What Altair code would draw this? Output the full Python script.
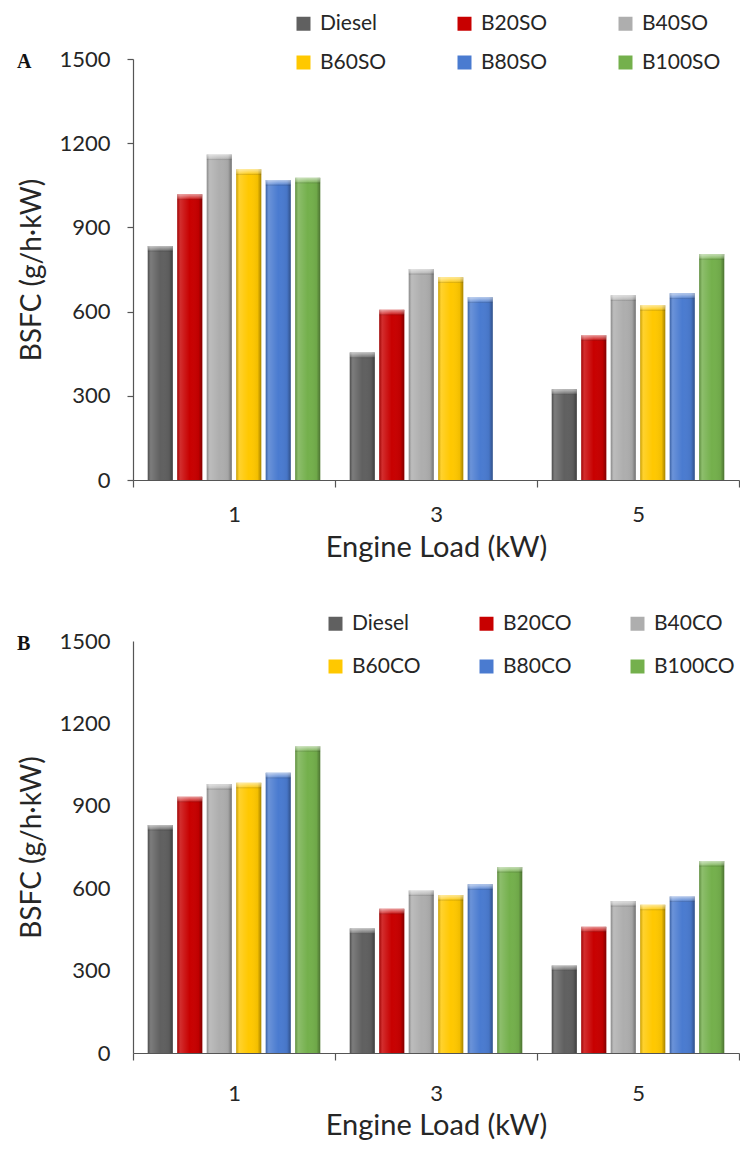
import altair as alt
import pandas as pd

loads = ["1", "3", "5"]
fuels_a = ["Diesel", "B20SO", "B40SO", "B60SO", "B80SO", "B100SO"]
fuels_b = ["Diesel", "B20CO", "B40CO", "B60CO", "B80CO", "B100CO"]
colors = ["#606060", "#C80000", "#AEAEAE", "#FFC800", "#4A7BD0", "#74B04C"]
y_ticks = [0, 300, 600, 900, 1200, 1500]

# Panel A (soybean oil blends) BSFC at 1, 3, 5 kW
a_diesel = [834, 454, 323]
a_b20 = [1018, 607, 516]
a_b40 = [1160, 752, 658]
a_b60 = [1107, 722, 623]
a_b80 = [1069, 651, 665]
a_b100 = [1077, None, 805]

# Panel B (canola oil blends) BSFC at 1, 3, 5 kW
b_diesel = [830, 453, 319]
b_b20 = [933, 525, 460]
b_b40 = [979, 592, 553]
b_b60 = [984, 575, 540]
b_b80 = [1020, 614, 570]
b_b100 = [1117, 677, 699]

FONT = "Lato"
TXT = "#262626"
AX = "#555555"


def build_df(fuels, series):
    rows = []
    for f, arr in zip(fuels, series):
        for l, v in zip(loads, arr):
            if v is not None:
                rows.append({"load": l, "fuel": f, "bsfc": v})
    return pd.DataFrame(rows)


def make_panel(fuels, series, letter, leg_x, leg_y, col_pad, row_pad, height,
               show_yticks, y_lab_pad, x_lab_pad, x_title_pad):
    df = build_df(fuels, series)
    x = alt.X(
        "load:N", sort=loads,
        scale=alt.Scale(paddingInner=0, paddingOuter=0),
        axis=alt.Axis(title="Engine Load (kW)", labelAngle=0, tickBand="extent",
                      tickSize=7, labelPadding=x_lab_pad, titlePadding=x_title_pad,
                      labelFontSize=22, titleFontSize=29),
    )
    xo = alt.XOffset("fuel:N", sort=fuels,
                     scale=alt.Scale(domain=fuels, paddingInner=0.15, paddingOuter=0.5))
    y = alt.Y(
        "bsfc:Q", scale=alt.Scale(domain=[0, 1500]),
        axis=alt.Axis(title="BSFC (g/h·kW)", values=y_ticks, grid=False, format="d",
                      ticks=show_yticks, tickSize=6, labelPadding=y_lab_pad,
                      titlePadding=12, labelFontSize=22, titleFontSize=28),
    )
    base = alt.Chart(df).encode(x=x, xOffset=xo, y=y)
    bars = base.mark_bar().encode(
        color=alt.Color(
            "fuel:N", sort=fuels,
            scale=alt.Scale(domain=fuels, range=colors),
            legend=alt.Legend(
                title=None, orient="none", legendX=leg_x, legendY=leg_y,
                direction="horizontal", columns=3, columnPadding=col_pad,
                rowPadding=row_pad, symbolType="square", symbolSize=196,
                symbolStrokeWidth=0, labelFontSize=21, labelOffset=6,
                labelFont=FONT, labelColor=TXT, padding=0,
            ),
        )
    )
    shade = base.mark_bar(
        color={
            "gradient": "linear", "x1": 0, "x2": 1, "y1": 0, "y2": 0,
            "stops": [
                {"offset": 0, "color": "rgba(0,0,0,0.22)"},
                {"offset": 0.12, "color": "rgba(255,255,255,0.18)"},
                {"offset": 0.5, "color": "rgba(255,255,255,0.0)"},
                {"offset": 0.85, "color": "rgba(0,0,0,0.05)"},
                {"offset": 1, "color": "rgba(0,0,0,0.35)"},
            ],
        }
    )
    cap = base.transform_calculate(cap_lo="datum.bsfc - 20").mark_bar(
        color={
            "gradient": "linear", "x1": 0, "x2": 0, "y1": 0, "y2": 1,
            "stops": [
                {"offset": 0, "color": "rgba(255,255,255,0.6)"},
                {"offset": 0.7, "color": "rgba(255,255,255,0.2)"},
                {"offset": 1, "color": "rgba(0,0,0,0.15)"},
            ],
        }
    ).encode(y2="cap_lo:Q")
    lab = alt.Chart(pd.DataFrame({"t": [letter]})).mark_text(
        font="Liberation Serif", fontWeight="bold", fontSize=20, align="left",
        baseline="middle", color="#111111",
    ).encode(text="t:N", x=alt.value(-116), y=alt.value(3))
    return alt.layer(bars, shade, cap, lab).properties(width=606, height=height)


panel_a = make_panel(fuels_a, [a_diesel, a_b20, a_b40, a_b60, a_b80, a_b100], "A",
                     160, -46, 67, 17, 421, True, 17, 17, 8)
panel_b = make_panel(fuels_b, [b_diesel, b_b20, b_b40, b_b60, b_b80, b_b100], "B",
                     192, -28, 55, 21, 412, False, 23, 23, 7)

chart = alt.vconcat(panel_a, panel_b, spacing=51).resolve_scale(
    color="independent", xOffset="independent"
).properties(
    padding={"left": 9, "top": 5, "right": 0, "bottom": 0}
).configure_view(stroke=None).configure_axis(
    labelFont=FONT, titleFont=FONT, labelColor=TXT, titleColor=TXT,
    titleFontWeight="normal", domainColor=AX, tickColor=AX, domainWidth=1.2,
    tickWidth=1.2,
)

chart.save("out.html", embed_options={"renderer": "svg", "actions": False})
